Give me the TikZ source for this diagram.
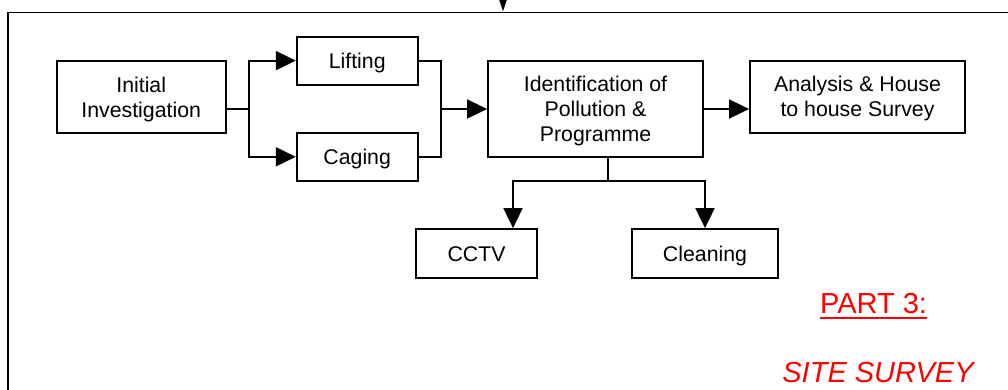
\documentclass[tikz,border=0pt]{standalone}
\usepackage{fontspec}
\setmainfont{Liberation Sans}
\usetikzlibrary{arrows.meta}
\begin{document}
\begin{tikzpicture}[x=1pt,y=-1pt,
  box/.style={draw, line width=1.8pt, inner sep=0pt, align=center, font=\fontsize{21.3}{25}\selectfont},
  single/.style={text height=15.2pt, text depth=0pt},
  double/.style={text height=40.2pt, text depth=0pt},
  triple/.style={text height=65.2pt, text depth=0pt},
  conn/.style={line width=1.8pt},
  arr/.style={conn, -{Triangle[length=20pt,width=19pt]}},
  redtext/.style={text=red, inner sep=0pt, anchor=base, font=\fontsize{29}{34}\selectfont}]
\useasboundingbox (0,0) rectangle (1008,389);
\clip (0,0) rectangle (1008,389);
% frame
\coordinate (fR) at (1012,12.5);
\coordinate (fC) at (8,12.5);
\coordinate (fB) at (8,393);
\draw[conn] (fR) -- (fC) -- (fB);
\coordinate (tA) at (503,-6);
\coordinate (tB) at (503,11.5);
\draw[conn, -{Triangle[length=11.5pt,width=7pt]}] (tA) -- (tB);
% boxes
\node[box, double, minimum width=169pt, minimum height=72pt] (init) at (141.2,97) {Initial\\Investigation};
\node[box, single, minimum width=121pt, minimum height=48pt] (lift) at (357.2,60.6) {Lifting};
\node[box, single, minimum width=121pt, minimum height=48pt] (cage) at (357.2,156.8) {Caging};
\node[box, triple, minimum width=215pt, minimum height=96pt] (ident) at (595.5,108.8) {Identification of\\Pollution \&\\Programme};
\node[box, double, minimum width=215pt, minimum height=72pt] (anal) at (857.5,96.7) {Analysis \& House\\to house Survey};
\node[box, single, minimum width=121pt, minimum height=49pt] (cctv) at (476.5,253.5) {CCTV};
\node[box, single, minimum width=146pt, minimum height=49pt] (clean) at (705,253.5) {Cleaning};
% connectors
\coordinate (j1) at (249,109);
\draw[conn] (init.east |- j1) -- (j1);
\draw[arr] (j1) |- (lift.west);
\draw[arr] (j1) |- (cage.west);
\coordinate (j2) at (441,109);
\draw[conn] (lift.east) -| (j2) |- (cage.east);
\draw[arr] (j2) -- (ident.west |- j2);
\draw[arr] (ident.east |- j2) -- (anal.west |- j2);
\coordinate (j4) at (608,181);
\coordinate (c1) at (513,181);
\coordinate (c2) at (705,181);
\draw[conn] (ident.south -| j4) -- (j4);
\draw[arr] (j4) -- (c1) -- (cctv.north -| c1);
\draw[arr] (j4) -- (c2) -- (clean.north -| c2);
% red texts
\node[redtext] (part) at (873.5,313) {PART 3:};
\draw[red, line width=2pt] ([yshift=-5pt]part.base west) -- ([yshift=-5pt]part.base east);
\node[redtext, font=\fontsize{29}{34}\selectfont\itshape] (site) at (878,382) {SITE SURVEY};
\end{tikzpicture}
\end{document}
